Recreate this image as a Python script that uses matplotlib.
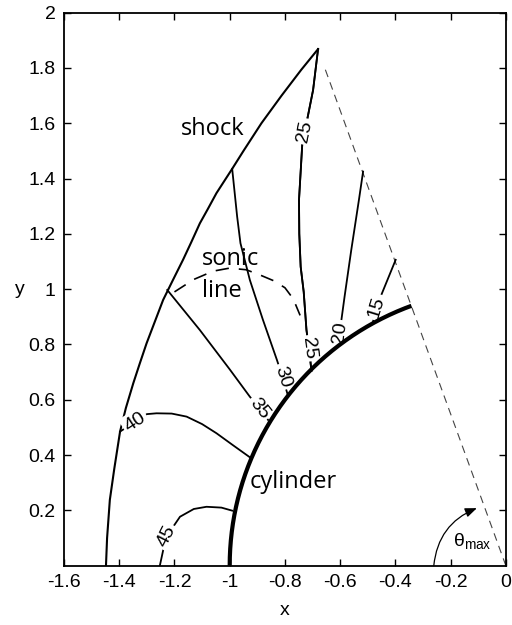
import numpy as np
import matplotlib
matplotlib.use("Agg")
import matplotlib.pyplot as plt

# ---------------- data ----------------
shock_x = [-1.448, -1.444, -1.434, -1.418, -1.397, -1.376, -1.349, -1.326, -1.301, -1.272,
           -1.241, -1.207, -1.169, -1.139, -1.108, -1.079, -1.048, -0.991, -0.950, -0.885,
           -0.812, -0.741, -0.680]
shock_y = [0.0, 0.100, 0.238, 0.350, 0.485, 0.570, 0.660, 0.730, 0.804, 0.880,
           0.961, 1.030, 1.106, 1.170, 1.238, 1.290, 1.347, 1.435, 1.500, 1.600,
           1.700, 1.793, 1.868]

cyl_theta_deg = [180, 110]   # cylinder surface angle range
cyl_radius = 1.0

sonic_x = [-1.20, -1.13, -1.06, -1.00, -0.94, -0.89, -0.84, -0.80, -0.77, -0.745]
sonic_y = [0.990, 1.035, 1.065, 1.076, 1.070, 1.051, 1.030, 1.005, 0.965, 0.905]

ray_end = [-0.656, 1.800]          # dashed outer boundary (theta_max ray)

c45_x = [-1.253, -1.240, -1.229, -1.180, -1.130, -1.084, -1.030, -0.991]
c45_y = [0.0, 0.060, 0.105, 0.177, 0.205, 0.213, 0.210, 0.199]
c40_x = [-1.397, -1.343, -1.300, -1.265, -1.210, -1.156, -1.100, -1.048, -0.990, -0.927]
c40_y = [0.485, 0.520, 0.548, 0.551, 0.550, 0.539, 0.512, 0.479, 0.437, 0.392]
c35_x = [-1.226, -1.108, -1.000, -0.927, -0.892, -0.861]
c35_y = [0.997, 0.852, 0.710, 0.611, 0.569, 0.527]
c30_x = [-0.991, -0.973, -0.961, -0.927, -0.880, -0.829, -0.809, -0.789]
c30_y = [1.435, 1.262, 1.166, 1.033, 0.890, 0.744, 0.683, 0.615]
c25_x = [-0.680, -0.698, -0.728, -0.737, -0.749, -0.748, -0.743, -0.732, -0.722, -0.713, -0.704]
c25_y = [1.868, 1.720, 1.570, 1.528, 1.323, 1.200, 1.081, 0.990, 0.852, 0.786, 0.705]
c20_x = [-0.517, -0.532, -0.560, -0.584, -0.593, -0.602, -0.608]
c20_y = [1.425, 1.323, 1.140, 0.973, 0.907, 0.841, 0.797]
c15_x = [-0.399, -0.451, -0.468, -0.482]
c15_y = [1.106, 0.979, 0.935, 0.878]

contour_vals = ["45", "40", "35", "30", "25", "25", "20", "15"]
contour_xs = [c45_x, c40_x, c35_x, c30_x, c25_x, c25_x, c20_x, c15_x]
contour_ys = [c45_y, c40_y, c35_y, c30_y, c25_y, c25_y, c20_y, c15_y]
label_idx = [2, 1, 4, 6, 2, 9, 5, 2]

xticks = [-1.6, -1.4, -1.2, -1.0, -0.8, -0.6, -0.4, -0.2, 0.0]
xticklabels = ["-1.6", "-1.4", "-1.2", "-1", "-0.8", "-0.6", "-0.4", "-0.2", "0"]
yticks = [0.2, 0.4, 0.6, 0.8, 1.0, 1.2, 1.4, 1.6, 1.8, 2.0]
yticklabels = ["0.2", "0.4", "0.6", "0.8", "1", "1.2", "1.4", "1.6", "1.8", "2"]

# ---------------- figure ----------------
plt.rcParams['font.family'] = ['Liberation Sans', 'DejaVu Sans']
fig = plt.figure(figsize=(5.12, 6.25), dpi=100)
ax = fig.add_axes([0.125, 0.0949, 0.863, 0.885])
ax.set_xlim(-1.6, 0)
ax.set_ylim(0, 2)

# shock
ax.plot(shock_x, shock_y, color='black', lw=1.5, solid_joinstyle='round')

# cylinder
th = np.radians(np.linspace(cyl_theta_deg[0], cyl_theta_deg[1], 200))
ax.plot(cyl_radius * np.cos(th), cyl_radius * np.sin(th), color='black', lw=3.0,
        solid_capstyle='butt', zorder=6)

# sonic line
ax.plot(sonic_x, sonic_y, color='black', lw=1.2, dashes=(8, 6))

# theta_max ray
ax.plot([0, ray_end[0]], [0, ray_end[1]], color='#444444', lw=0.8, dashes=(7, 5))

# iso-lines with labels
lab_font = dict(family=['Liberation Sans', 'DejaVu Sans'], fontsize=14)
for val, xs, ys, k in zip(contour_vals, contour_xs, contour_ys, label_idx):
    ax.plot(xs, ys, color='black', lw=1.3, solid_joinstyle='round')
    x0, y0 = xs[k], ys[k]
    dx = xs[k + 1] - xs[k - 1]
    dy = ys[k + 1] - ys[k - 1]
    ang = np.degrees(np.arctan2(dy, dx))
    if ang > 90:
        ang -= 180
    if ang < -90:
        ang += 180
    ax.text(x0, y0, val, rotation=ang, rotation_mode='anchor', ha='center', va='center',
            bbox=dict(boxstyle='square,pad=0.12', fc='white', ec='none'), zorder=5, **lab_font)

# arrow theta_max
ax.annotate('', xy=(-0.105, 0.208), xytext=(-0.261, 0.0),
            arrowprops=dict(arrowstyle='-|>,head_length=0.7,head_width=0.28', color='black',
                            lw=0.9, connectionstyle='arc3,rad=-0.3', shrinkA=0, shrinkB=0))
ax.text(-0.121, 0.09, r'$\mathregular{θ_{max}}$', ha='center', va='center', fontsize=14)

# text labels
tfont = dict(family=['Open Sans', 'DejaVu Sans'], fontsize=17)
ax.text(-1.175, 1.557, 'shock', ha='left', va='baseline', **tfont)
ax.text(-1.10, 1.087, 'sonic', ha='left', va='baseline', **tfont)
ax.text(-1.10, 0.973, 'line', ha='left', va='baseline', **tfont)
ax.text(-0.927, 0.28, 'cylinder', ha='left', va='baseline', **tfont)

# axes styling
ax.set_xticks(xticks)
ax.set_xticklabels(xticklabels)
ax.set_yticks(yticks)
ax.set_yticklabels(yticklabels)
ax.tick_params(direction='in', length=5, width=1.0, top=True, right=True,
               labelsize=14, pad=6)
for s in ax.spines.values():
    s.set_linewidth(1.3)
ax.set_xlabel('x', fontsize=14, labelpad=8)
ax.set_ylabel('y', fontsize=14, rotation=0, labelpad=6, va='center')

fig.savefig('out.png', dpi=100)
